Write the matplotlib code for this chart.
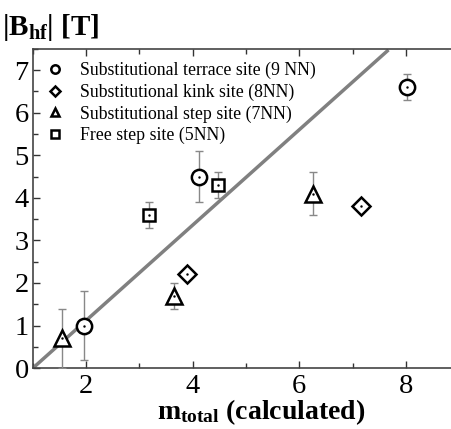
import matplotlib
matplotlib.use("Agg")
import matplotlib.pyplot as plt
from matplotlib.ticker import MultipleLocator

# terrace site (9 NN)
terrace_x = [1.95, 4.12, 8.03]
terrace_y = [1.0, 4.5, 6.6]
terrace_err = [0.8, 0.6, 0.3]

# kink site (8NN)
kink_x = [3.9, 7.15]
kink_y = [2.2, 3.8]

# step site (7NN)
step_x = [1.54, 3.64, 6.25]
step_y = [0.7, 1.7, 4.1]
step_err = [0.7, 0.3, 0.5]

# free step site (5NN)
free_x = [3.17, 4.48]
free_y = [3.6, 4.3]
free_err = [0.3, 0.3]

# guide line
line_x = [1.0, 7.65]
line_y = [0.0, 7.45]

labels = ["Substitutional terrace site (9 NN)",
          "Substitutional kink site (8NN)",
          "Substitutional step site (7NN)",
          "Free step site (5NN)"]

plt.rcParams['font.family'] = ['Liberation Serif', 'DejaVu Serif']
plt.rcParams['mathtext.fontset'] = 'custom'
plt.rcParams['mathtext.rm'] = 'Liberation Serif'
plt.rcParams['mathtext.bf'] = 'Liberation Serif:bold'

fig = plt.figure(figsize=(4.51, 4.29), dpi=100)
ax = fig.add_axes([0.073, 0.142, 0.945, 0.744])

err_col = "#888888"
ax.plot(line_x, line_y, color="#808080", lw=2.5, zorder=2)

ax.errorbar(terrace_x, terrace_y, yerr=terrace_err, fmt="none", ecolor=err_col, elinewidth=1, capsize=3, zorder=3)
ax.errorbar(step_x, step_y, yerr=step_err, fmt="none", ecolor=err_col, elinewidth=1, capsize=3, zorder=3)
ax.errorbar(free_x, free_y, yerr=free_err, fmt="none", ecolor=err_col, elinewidth=1, capsize=3, zorder=3)

ms = 11
mew = 1.8
ax.plot(terrace_x, terrace_y, "o", ms=ms, mfc="white", mec="black", mew=mew, zorder=4, label=labels[0])
ax.plot(kink_x, kink_y, "D", ms=ms*0.82, mfc="white", mec="black", mew=mew, zorder=4, label=labels[1])
ax.plot(step_x, step_y, "^", ms=ms*1.05, mfc="white", mec="black", mew=mew, zorder=4, label=labels[2])
ax.plot(free_x, free_y, "s", ms=ms*0.85, mfc="white", mec="black", mew=mew, zorder=4, label=labels[3])

# tiny centre dots
for xs, ys in [(terrace_x, terrace_y), (kink_x, kink_y), (step_x, step_y), (free_x, free_y)]:
	ax.plot(xs, ys, ".", ms=1.5, color="black", zorder=5)

ax.set_xlim(1, 9)
ax.set_ylim(0, 7.5)
ax.xaxis.set_major_locator(MultipleLocator(2))
ax.xaxis.set_minor_locator(MultipleLocator(1))
ax.yaxis.set_major_locator(MultipleLocator(1))
ax.yaxis.set_minor_locator(MultipleLocator(0.5))
ax.tick_params(which="both", direction="in", top=True, right=False, labelsize=20.5, width=1, colors="#333333", labelcolor="black")
ax.tick_params(which="major", length=5)
ax.tick_params(axis="x", which="major", pad=4)
ax.tick_params(axis="y", which="major", pad=3)
ax.tick_params(which="minor", length=3.5)
for s in ["left", "bottom", "top"]:
	ax.spines[s].set_color("#444444")
	ax.spines[s].set_linewidth(1.2)
ax.spines["right"].set_visible(False)

leg = ax.legend(loc="upper left", frameon=False, fontsize=12.8, markerscale=0.55,
                handlelength=1.0, handletextpad=0.9, labelspacing=0.24,
                borderaxespad=0.2, bbox_to_anchor=(0.007, 0.992))

fig.text(0.005, 0.935, r"$\mathbf{|B_{hf}|}$ [T]", fontsize=21, fontweight="bold", ha="left", va="center")
fig.text(0.58, 0.004, r"$\mathbf{m_{total}}$ (calculated)", fontsize=20, fontweight="bold", ha="center", va="bottom")

plt.savefig("out.png", dpi=100)
